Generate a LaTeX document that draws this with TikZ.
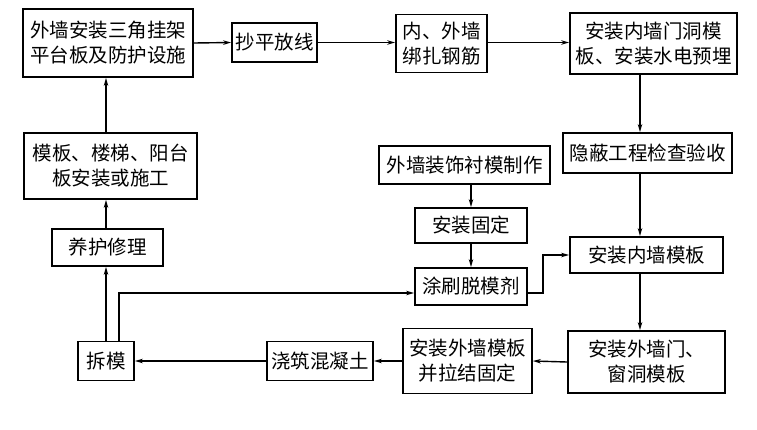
\documentclass[tikz,border=0pt]{standalone}
\usepackage{fontspec}
\setmainfont{Noto Sans CJK SC}
\usetikzlibrary{arrows.meta}

\tikzset{
  box/.style={draw, line width=1.8pt, align=center, inner sep=0pt,
    font=\fontsize{19.5}{25}\selectfont},
  flow/.style={line width=1.4pt, -{Stealth[length=8pt,width=4.5pt]}},
}

\begin{document}
\begin{tikzpicture}[x=1pt, y=-1pt]

    % Page frame, same size as the reference
    \useasboundingbox (0,0) rectangle (757,429);

    % Top row (left to right)
    \node[box, minimum width=170, minimum height=68] (tripod) at (108,43) {外墙安装三角挂架\\平台板及防护设施};
    \node[box, minimum width=85, minimum height=39] (level) at (274.5,42.5) {抄平放线};
    \node[box, minimum width=91, minimum height=58] (rebar) at (441.5,43.5) {内、外墙\\绑扎钢筋};
    \node[box, minimum width=167, minimum height=61] (doorform) at (653.5,43.5) {安装内墙门洞模\\板、安装水电预埋};

    % Right column (top to bottom)
    \node[box, minimum width=169, minimum height=40] (inspect) at (647.5,153) {隐蔽工程检查验收};
    \node[box, minimum width=153, minimum height=36] (innerform) at (646.5,255) {安装内墙模板};
    \node[box, minimum width=157, minimum height=62] (outerdoor) at (646.5,362) {安装外墙门、\\窗洞模板};

    % Middle column
    \node[box, minimum width=171, minimum height=38] (liner) at (464.5,165) {外墙装饰衬模制作};
    \node[box, minimum width=112, minimum height=35] (fix) at (471,225.5) {安装固定};
    \node[box, minimum width=112, minimum height=37] (agent) at (471,286.5) {涂刷脱模剂};

    % Bottom row (right to left)
    \node[box, minimum width=129, minimum height=65] (outerform) at (467.5,361) {安装外墙模板\\并拉结固定};
    \node[box, minimum width=106, minimum height=39] (pour) at (320,361) {浇筑混凝土};
    \node[box, minimum width=56, minimum height=39] (strip) at (106,361) {拆模};

    % Left column (bottom to top)
    \node[box, minimum width=111, minimum height=37] (cure) at (107.5,247.5) {养护修理};
    \node[box, minimum width=173, minimum height=66] (stairs) at (110.5,166) {模板、楼梯、阳台\\板安装或施工};

    % Columns that the vertical connectors follow
    \coordinate (colR) at (640,0);
    \coordinate (colL) at (106,0);

    % Top row
    \draw[flow] (tripod.east) -- (level.west);
    \draw[flow] (level.east) -- (rebar.west |- level.east);
    \draw[flow] (rebar.east |- level.east) -- (doorform.west |- level.east);

    % Right column
    \draw[flow] (colR |- doorform.south) -- (colR |- inspect.north);
    \draw[flow] (colR |- inspect.south) -- (colR |- innerform.north);
    \draw[flow] (colR |- innerform.south) -- (colR |- outerdoor.north);

    % Bottom row
    \draw[flow] (outerdoor.west) -- (outerform.east);
    \draw[flow] (outerform.west) -- (pour.east);
    \draw[flow] (pour.west) -- (strip.east);

    % Left column
    \draw[flow] (colL |- strip.north) -- (colL |- cure.south);
    \draw[flow] (colL |- cure.north) -- (colL |- stairs.south);
    \draw[flow] (colL |- stairs.north) -- (colL |- tripod.south);

    % Liner branch
    \draw[flow] (fix.north |- liner.south) -- (fix.north);
    \draw[flow] (fix.south) -- (agent.north);
    \draw[flow] ([xshift=13pt]strip.north) |- ([yshift=-6.5pt]agent.west);
    \draw[flow] ([yshift=-6.5pt]agent.east) -- ++(15,0) |- (innerform.west);

\end{tikzpicture}
\end{document}
